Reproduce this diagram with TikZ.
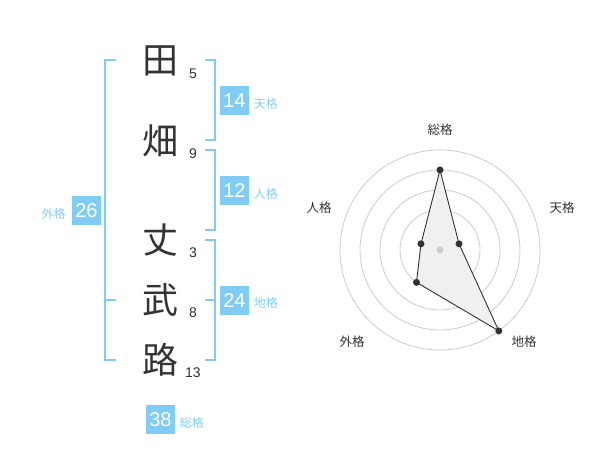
\documentclass[tikz,border=0pt]{standalone}
\usepackage{fontspec}
\setmainfont{Liberation Sans}
\newfontfamily\cjk{Noto Sans CJK JP}
\usetikzlibrary{positioning}
\definecolor{ink}{HTML}{333333}
\definecolor{kakublue}{HTML}{80CCF5}
\definecolor{kakutext}{HTML}{86CFF6}
\definecolor{radarfill}{HTML}{F0F0F0}
\tikzstyle{kanji}=[font=\cjk\fontsize{36}{36}\selectfont,text=ink,inner sep=0pt]
\tikzstyle{stroke}=[font=\fontsize{14}{14}\selectfont,text=ink,inner sep=0pt]
\tikzstyle{kakubox}=[fill=kakublue,text=white,minimum size=29pt,inner sep=0pt,font=\fontsize{20}{20}\selectfont]
\tikzstyle{kakuname}=[text=kakutext,font=\cjk\fontsize{12}{12}\selectfont,inner sep=0pt]
\tikzstyle{bracket}=[draw=kakublue,line width=2pt]
\tikzstyle{ring}=[draw=black!20,line width=0.8pt]
\tikzstyle{axisname}=[text=ink,font=\cjk\fontsize{12.5}{12.5}\selectfont,inner sep=0pt]
\tikzstyle{rdot}=[fill=ink,circle,inner sep=0pt,minimum size=7pt]

\begin{document}
\begin{tikzpicture}[x=1pt,y=-1pt]
  \useasboundingbox[fill=white] (0,0) rectangle (600,470);

  % name and stroke counts
  \foreach \ch/\num/\y [count=\i] in {田/5/61,畑/9/141,丈/3/240,武/8/300,路/13/360}{
    \node[kanji] (ch\i) at (160,\y) {\ch};
    \node[stroke] (n\i) at (193,\y+12.5) {\num};
  }

  % brackets
  \coordinate (lt) at (105,60);  \coordinate (lb) at (105,360);
  \draw[bracket] ([xshift=11pt]lt) -- (lt) -- (lb) -- ([xshift=11pt]lb);
  \draw[bracket] (105,300) -- (116,300);
  \draw[bracket] (205,60) -- (215,60) -- (215,140) -- (205,140);
  \draw[bracket] (205,150) -- (215,150) -- (215,230) -- (205,230);
  \draw[bracket] (205,240) -- (215,240) -- (215,360) -- (205,360);
  \draw[bracket] (215,300) -- (205,300);

  % boxes
  \node[kakubox] (ten)   at (234.5,100.5) {14};
  \node[kakuname] [right=4.5pt of ten,yshift=-3pt] {天格};
  \node[kakubox] (jin)   at (234.5,190.5) {12};
  \node[kakuname] [right=4.5pt of jin,yshift=-3pt] {人格};
  \node[kakubox] (chi)   at (234.5,300.5) {24};
  \node[kakuname] [right=4.5pt of chi,yshift=-2pt] {地格};
  \node[kakubox] (gai)   at (86.5,210.5) {26};
  \node[kakuname] [left=6pt of gai,yshift=-3pt] {外格};
  \node[kakubox] (sou)   at (160.5,419.5) {38};
  \node[kakuname] [right=4.5pt of sou,yshift=-3pt] {総格};

  % radar
  \coordinate (c) at (440,250);
  \foreach \r in {20,40,60,80,100}
    \draw[ring] (c) circle[radius=\r pt];
  \path (c) ++(-90:80) coordinate (p1)
        (c) ++(-18:20) coordinate (p2)
        (c) ++(54:100) coordinate (p3)
        (c) ++(126:40) coordinate (p4)
        (c) ++(198:20) coordinate (p5);
  \draw[fill=radarfill,draw=ink,line width=0.9pt] (p1) -- (p2) -- (p3) -- (p4) -- (p5) -- cycle;
  \fill[black!20] (c) circle[radius=3.5pt];
  \foreach \p in {p1,p2,p3,p4,p5}
    \node[rdot] at (\p) {};

  \node[axisname] (asou) at (440,130) {総格};
  \node[axisname] (aten) at (562,208) {天格};
  \node[axisname] (ajin) at (319,208) {人格};
  \node[axisname] (agai) at (352,342) {外格};
  \node[axisname] (achi) at (524,342) {地格};
\end{tikzpicture}
\end{document}
